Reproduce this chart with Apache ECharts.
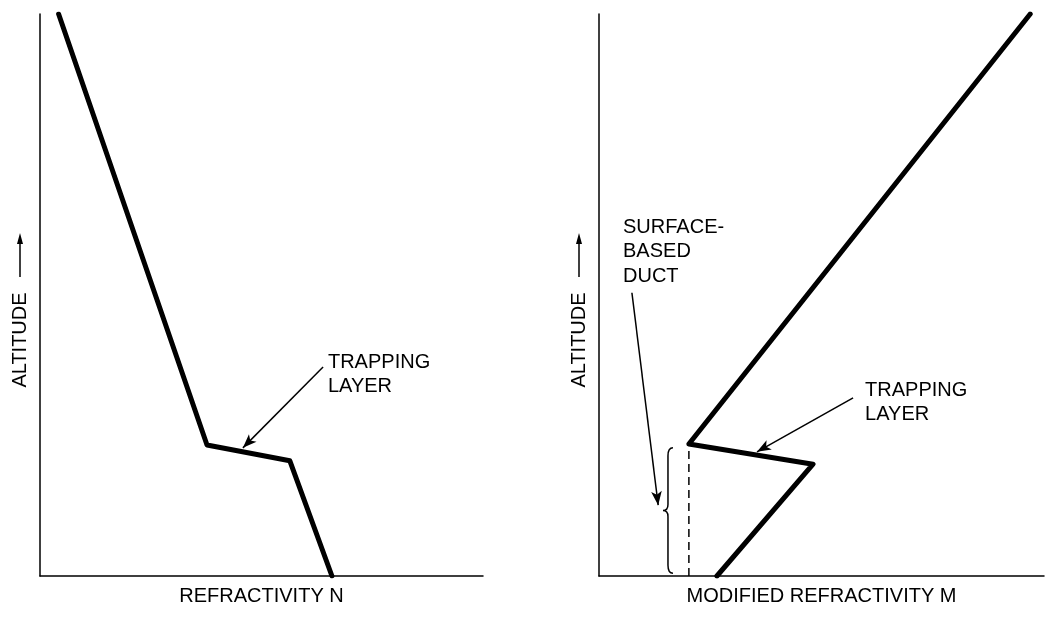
<!DOCTYPE html>
<html>
<head>
<meta charset="utf-8">
<script src="https://cdn.jsdelivr.net/npm/echarts@6/dist/echarts.min.js"></script>
<style>
  html, body { margin: 0; padding: 0; background: #fff; }
  #chart { width: 1050px; height: 617px; }
</style>
</head>
<body>
<div id="chart"></div>
<script>
// axis scale is 0..100 in both directions (schematic, no ticks)
const nProfile = [[4.2, 100], [37.7, 23.3], [56.4, 20.5], [65.9, 0]];
const mProfile = [[26.5, 0], [48.1, 19.9], [20.2, 23.5], [96.9, 100]];

// dashed line under the M-kink, and the brace marking the duct
const ductLine = [[20.2, 0], [20.2, 22.6]];
const ductBrace = [[15.5, 0.5, 22.8]];

// annotation arrows [from, to]
const nArrows = [[[63.9, 37.2], [45.8, 22.8]]];
const mArrows = [[[57.1, 31.7], [35.5, 22.1]], [[7.4, 50.4], [13.3, 12.6]]];

// annotation labels [x, y, text]
const nLabels = [[65.0, 35.9, "TRAPPING\nLAYER"]];
const mLabels = [[59.8, 30.9, "TRAPPING\nLAYER"], [5.4, 57.7, "SURFACE-\nBASED\nDUCT"]];

const xNames = ["REFRACTIVITY N", "MODIFIED REFRACTIVITY M"];
const yName = "ALTITUDE";

const FONT = "'Liberation Sans', Arial, sans-serif";
const INK = "#000";

const grids = [
  { left: 40, top: 14, width: 443, height: 562 },
  { left: 599, top: 14, width: 445, height: 562 },
];

const axisLine = { show: true, lineStyle: { color: INK, width: 1.5 } };

const xAxes = grids.map((g, i) => ({
  type: "value", gridIndex: i, min: 0, max: 100,
  axisLine: axisLine, axisTick: { show: false }, axisLabel: { show: false },
  splitLine: { show: false },
  name: xNames[i], nameLocation: "middle", nameGap: 10,
  nameTextStyle: { fontFamily: FONT, fontSize: 20, color: INK },
}));
const yAxes = grids.map((g, i) => ({
  type: "value", gridIndex: i, min: 0, max: 100,
  axisLine: axisLine, axisTick: { show: false }, axisLabel: { show: false },
  splitLine: { show: false },
}));

function arrowMarks(list) {
  return {
    silent: true,
    symbol: ["none", "arrow"],
    symbolSize: [8, 14],
    label: { show: false },
    lineStyle: { color: INK, width: 1.5, type: "solid", opacity: 1 },
    emphasis: { disabled: true },
    data: list.map(a => [{ coord: a[0] }, { coord: a[1] }]),
  };
}

function labelSeries(list, i) {
  return {
    type: "scatter", xAxisIndex: i, yAxisIndex: i, silent: true,
    symbolSize: 0, itemStyle: { color: INK, opacity: 1 },
    data: list.map(d => ({ value: [d[0], d[1]], name: d[2] })),
    label: {
      show: true, position: "right", distance: 0,
      formatter: p => p.name,
      fontFamily: FONT, fontSize: 20, lineHeight: 24.5, color: INK,
      textBorderWidth: 0,
      align: "left", verticalAlign: "middle",
    },
  };
}

const profileStyle = { color: INK, width: 5, cap: "round", join: "round" };

const series = [
  {
    type: "line", xAxisIndex: 0, yAxisIndex: 0, data: nProfile,
    symbol: "none", lineStyle: profileStyle, silent: true,
    markLine: arrowMarks(nArrows),
  },
  labelSeries(nLabels, 0),
  {
    type: "line", xAxisIndex: 1, yAxisIndex: 1, data: mProfile,
    symbol: "none", lineStyle: profileStyle, silent: true,
    markLine: arrowMarks(mArrows),
  },
  {
    type: "line", xAxisIndex: 1, yAxisIndex: 1, data: ductLine,
    symbol: "none", silent: true,
    lineStyle: { color: INK, width: 1.5, type: [8, 5] },
  },
  {
    type: "custom", xAxisIndex: 1, yAxisIndex: 1, data: ductBrace, silent: true,
    renderItem: function (params, api) {
      const lo = api.coord([api.value(0), api.value(1)]);
      const hi = api.coord([api.value(0), api.value(2)]);
      const x = lo[0], yb = lo[1], yt = hi[1], ym = (yb + yt) / 2;
      const d = "M" + (x + 5) + " " + yt +
        " Q" + x + " " + yt + " " + x + " " + (yt + 8) +
        " L" + x + " " + (ym - 6) +
        " Q" + x + " " + ym + " " + (x - 5) + " " + ym +
        " Q" + x + " " + ym + " " + x + " " + (ym + 6) +
        " L" + x + " " + (yb - 8) +
        " Q" + x + " " + yb + " " + (x + 5) + " " + yb;
      return {
        type: "path",
        shape: { pathData: d },
        style: { fill: null, stroke: INK, lineWidth: 1.5 },
      };
    },
  },
  labelSeries(mLabels, 1),
];

// rotated ALTITUDE title with an upward arrow, beside each y axis
function altitudeTitle(g) {
  const x = g.left - 20;
  return [
    {
      type: "text", x: x, y: 340, rotation: Math.PI / 2,
      style: {
        text: yName, fontFamily: FONT, fontSize: 20, fill: INK,
        align: "center", verticalAlign: "middle",
      },
    },
    { type: "line", shape: { x1: x, y1: 277, x2: x, y2: 242 }, style: { stroke: INK, lineWidth: 1.5 } },
    { type: "polygon", shape: { points: [[x, 233], [x - 3, 244], [x + 3, 244]] }, style: { fill: INK } },
  ];
}

const chart = echarts.init(document.getElementById("chart"));
chart.setOption({
  animation: false,
  backgroundColor: "#fff",
  grid: grids,
  xAxis: xAxes,
  yAxis: yAxes,
  series: series,
  graphic: grids.flatMap(altitudeTitle),
});
</script>
</body>
</html>
